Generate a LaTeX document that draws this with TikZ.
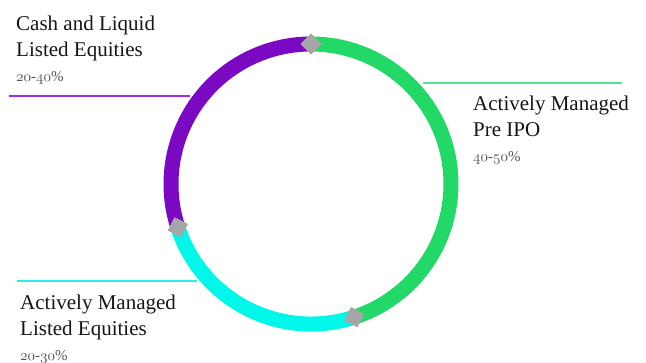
\documentclass[tikz,border=0pt]{standalone}
\usepackage{fontspec}
\setmainfont{Liberation Serif}
\usetikzlibrary{calc, positioning}

\definecolor{ringpurple}{HTML}{7B08C3}
\definecolor{ringgreen}{HTML}{22D866}
\definecolor{ringcyan}{HTML}{00F8EA}
\definecolor{leadpurple}{HTML}{9B2BEA}
\definecolor{leadgreen}{HTML}{50E48C}
\definecolor{leadcyan}{HTML}{2CEEE8}
\definecolor{jointgray}{HTML}{A6A6A6}
\definecolor{labeltext}{HTML}{151515}
\definecolor{rangetext}{HTML}{555555}

\font\oldfig=cmmi10 at 15pt
\newcommand{\pctrange}[2]{{\oldfig #1}-{\oldfig #2}\%}

\begin{document}
\begin{tikzpicture}[x=1pt, y=1pt,
    ring/.style={line width=15pt},
    joint/.style={rectangle, fill=jointgray, minimum size=15pt, inner sep=0pt},
    labeltitle/.style={anchor=base west, align=left, inner sep=0pt, text=labeltext, font=\fontsize{21}{26}\selectfont},
    pctlabel/.style={anchor=base west, inner sep=0pt, text=rangetext, font=\fontsize{15}{17}\selectfont},
    leader/.style={line width=1.2pt}]
    \useasboundingbox (0,0) rectangle (646,362);
    \coordinate (c) at (311,178);

    % ring segments
    \draw[ring, ringgreen] ($(c)+(90:140)$) arc[start angle=90, end angle=-72, radius=140];
    \draw[ring, ringcyan] ($(c)+(-72:140)$) arc[start angle=-72, end angle=-162, radius=140];
    \draw[ring, ringpurple] ($(c)+(198:140)$) arc[start angle=198, end angle=90, radius=140];

    \node[joint, rotate=135] (jtop) at ($(c)+(90:140)$) {};
    \node[joint, rotate=243] (jleft) at ($(c)+(198:140)$) {};
    \node[joint, rotate=-27] (jbottom) at ($(c)+(-72:140)$) {};

    % labels (base = last line)
    \node[labeltitle] (cash) at (16,305) {Cash and Liquid\\Listed Equities};
    \node[pctlabel] (cashpct) at (16,280) {\pctrange{20}{40}};
    \node[labeltitle] (preipo) at (473,225) {Actively Managed\\Pre IPO};
    \node[pctlabel] (preipopct) at (473,200) {\pctrange{40}{50}};
    \node[labeltitle] (listed) at (20,27) {Actively Managed\\Listed Equities};
    \node[pctlabel] (listedpct) at (20,2) {\pctrange{20}{30}};

    % leader lines
    \coordinate (cashA) at (9,266);
    \coordinate (cashB) at (190,266);
    \coordinate (preipoA) at (423,279);
    \coordinate (preipoB) at (622,279);
    \coordinate (listedA) at (17,81);
    \coordinate (listedB) at (197,81);
    \draw[leader, leadpurple] (cashA) -- (cashB);
    \draw[leader, leadgreen] (preipoA) -- (preipoB);
    \draw[leader, leadcyan] (listedA) -- (listedB);
\end{tikzpicture}
\end{document}
